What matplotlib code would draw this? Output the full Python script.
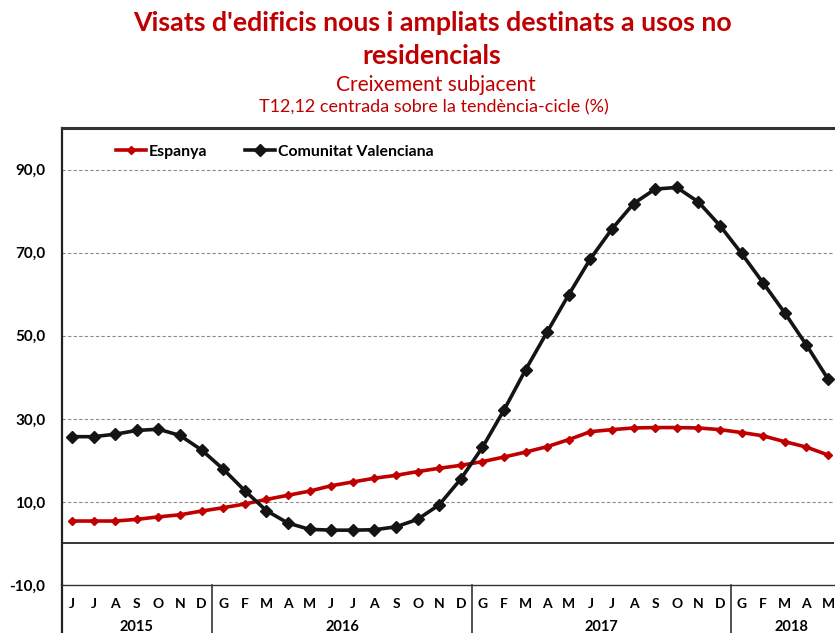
import matplotlib
matplotlib.use("Agg")
import matplotlib.pyplot as plt
from matplotlib.lines import Line2D

plt.rcParams['font.family'] = ['Lato', 'DejaVu Sans']

months = ["J", "J", "A", "S", "O", "N", "D",
          "G", "F", "M", "A", "M", "J", "J", "A", "S", "O", "N", "D",
          "G", "F", "M", "A", "M", "J", "J", "A", "S", "O", "N", "D",
          "G", "F", "M", "A", "M"]
years = ["2015", "2016", "2017", "2018"]
year_counts = [7, 12, 12, 5]

espanya = [5.4, 5.4, 5.4, 5.8, 6.4, 6.9, 7.8,
           8.6, 9.5, 10.6, 11.6, 12.6, 13.9, 14.8, 15.7, 16.4, 17.3, 18.1, 18.8,
           19.7, 20.8, 22.0, 23.3, 25.0, 26.9, 27.4, 27.8, 27.9, 27.9, 27.8, 27.4,
           26.7, 25.9, 24.5, 23.2, 21.3]
cv = [25.7, 25.7, 26.3, 27.2, 27.5, 26.0, 22.5,
      17.9, 12.7, 7.9, 4.9, 3.4, 3.2, 3.2, 3.3, 4.0, 5.8, 9.3, 15.5,
      23.1, 32.1, 41.8, 50.9, 59.9, 68.5, 75.7, 81.8, 85.3, 85.7, 82.2, 76.5,
      69.8, 62.7, 55.5, 47.8, 39.6]

yticks = [-10, 10, 30, 50, 70, 90]

RED = "#C00000"
BLACK = "#141414"

W, H = 835, 633
fig = plt.figure(figsize=(W / 100, H / 100), dpi=100)
ax = fig.add_axes([62 / W, 1 - 585 / H, (834 - 62) / W, (585 - 128) / H])

x = list(range(len(months)))
ax.set_xlim(-0.463, 35.28)
ax.set_ylim(-10, 100)

for yt in yticks:
    if yt == -10:
        continue
    ax.axhline(yt, color="#8c8c8c", lw=0.8, ls=(0, (3, 2)), zorder=1)
ax.axhline(0, color="black", lw=1.1, zorder=2)

ax.plot(x, espanya, color=RED, lw=2.6, marker="D", ms=3.6, mfc=RED, mec=RED, zorder=3)
ax.plot(x, cv, color=BLACK, lw=2.6, marker="D", ms=6.2, mfc=BLACK, mec=BLACK, zorder=4)

ax.set_yticks(yticks)
ax.set_yticklabels([f"{v:.1f}".replace(".", ",") for v in yticks],
                   fontsize=11, fontweight="bold")
ax.tick_params(axis="y", length=0, pad=12)
ax.set_xticks([])

ax.spines["right"].set_visible(False)
ax.spines["top"].set_linewidth(2.2)
ax.spines["top"].set_color("#333333")
ax.spines["left"].set_linewidth(1.6)
ax.spines["left"].set_color("#222222")
ax.spines["bottom"].set_linewidth(1.0)
ax.spines["bottom"].set_color("#333333")

# category axis below (month letters, years, separators)
trans = ax.get_xaxis_transform()
for i, m in enumerate(months):
    ax.text(i, -0.041, m, transform=trans, ha="center", va="center",
            fontsize=10, fontweight="bold", clip_on=False)
start = 0
seps = [-0.463]
for yr, n in zip(years, year_counts):
    end = start + n
    center = (start - 0.5 + end - 0.5) / 2
    if yr == "2018":
        center += 0.3
    ax.text(center, -0.091, yr, transform=trans, ha="center", va="center",
            fontsize=10.5, fontweight="bold", clip_on=False)
    if end < len(months):
        seps.append(end - 0.5)
    start = end
for sx in seps:
    lw = 1.6 if sx == -0.463 else 1.1
    ax.add_line(Line2D([sx, sx], [0, -0.11], transform=trans, color="#222222",
                       lw=lw, clip_on=False))

# legend
handles = [Line2D([], [], color=RED, lw=2.6, marker="D", ms=3.6),
           Line2D([], [], color=BLACK, lw=2.6, marker="D", ms=6.2)]
ax.legend(handles, ["Espanya", "Comunitat Valenciana"], loc="upper left",
          bbox_to_anchor=(0.052, 0.995), ncol=2, frameon=False,
          prop={"size": 11.4, "weight": "bold"}, handlelength=1.9,
          handletextpad=0.15, columnspacing=2.4)

# titles
fig.text(432 / W, 1 - 23 / H, "Visats d'edificis nous i ampliats destinats a usos no",
         ha="center", va="center", color=RED, fontsize=19.3, fontweight="bold")
fig.text(432 / W, 1 - 56 / H, "residencials",
         ha="center", va="center", color=RED, fontsize=19.3, fontweight="bold")
fig.text(436 / W, 1 - 85 / H, "Creixement subjacent",
         ha="center", va="center", color=RED, fontsize=15)
fig.text(434 / W, 1 - 107 / H, "T12,12 centrada sobre la tendència-cicle (%)",
         ha="center", va="center", color=RED, fontsize=13)

fig.savefig("out.png", dpi=100)
